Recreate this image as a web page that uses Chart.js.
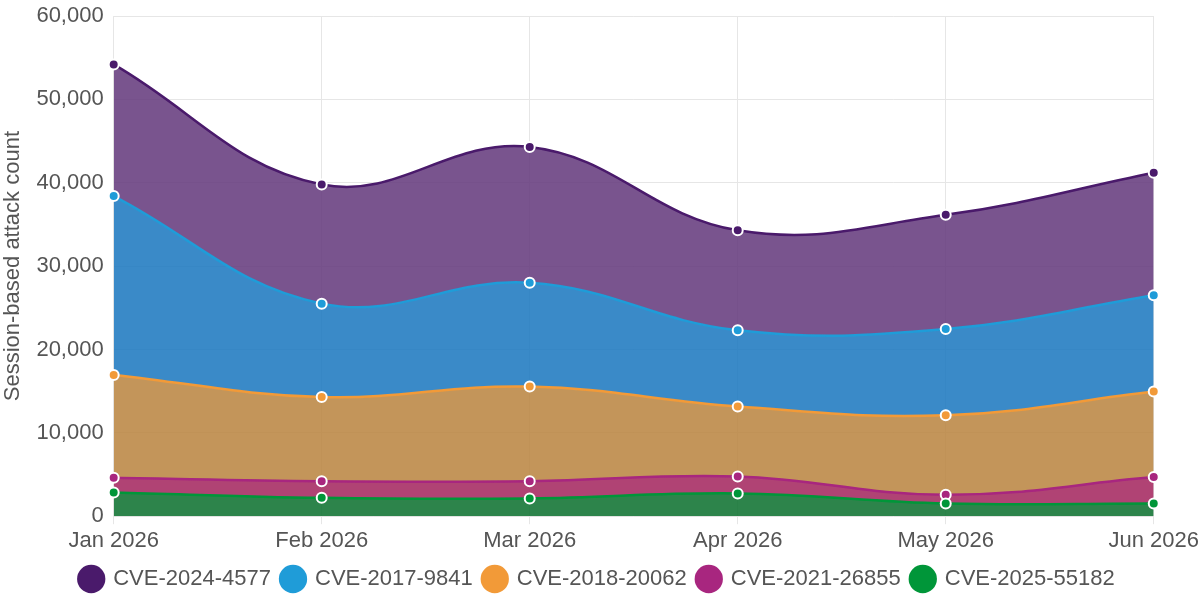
<!DOCTYPE html>
<html>
<head>
<meta charset="utf-8">
<script src="https://cdn.jsdelivr.net/npm/chart.js@4/dist/chart.umd.min.js"></script>
<style>
  html, body { margin: 0; padding: 0; background: #fff; }
  #wrap { width: 1200px; height: 600px; }
</style>
</head>
<body>
<div id="wrap"><canvas id="attackChart"></canvas></div>
<script>
const months = ['Jan 2026', 'Feb 2026', 'Mar 2026', 'Apr 2026', 'May 2026', 'Jun 2026'];

// stacked bottom to top: green, pink, orange, blue, purple
const cve202555182 = [2850, 2200, 2130, 2730, 1520, 1520];
const cve202126855 = [1750, 2000, 2070, 2040, 1040, 3170];
const cve201820062 = [12350, 10100, 11350, 8380, 9540, 10260];
const cve20179841 = [21450, 11200, 12450, 9150, 10350, 11550];
const cve20244577 = [15800, 14300, 16300, 12000, 13700, 14700];

const yTicks = [0, 10000, 20000, 30000, 40000, 50000, 60000];

const fontFam = '"Liberation Sans", Arial, sans-serif';

function serie(label, data, line, area, fill) {
    return {
        label: label,
        data: data,
        borderColor: line,
        backgroundColor: area,
        pointBackgroundColor: line,
        pointBorderColor: '#fff',
        pointBorderWidth: 2,
        pointRadius: 5,
        borderWidth: 2.5,
        tension: 0.4,
        fill: fill
    };
}

const ctx = document.getElementById('attackChart').getContext('2d');

new Chart(ctx, {
    type: 'line',
    data: {
        labels: months,
        datasets: [
            serie('CVE-2025-55182', cve202555182, '#009639', 'rgba(8,110,44,0.85)', 'origin'),
            serie('CVE-2021-26855', cve202126855, '#a8267f', 'rgba(162,34,92,0.85)', '-1'),
            serie('CVE-2018-20062', cve201820062, '#f29a38', 'rgba(185,131,61,0.85)', '-1'),
            serie('CVE-2017-9841', cve20179841, '#1f9cd8', 'rgba(24,117,190,0.85)', '-1'),
            serie('CVE-2024-4577', cve20244577, '#4a1a6b', 'rgba(98,54,122,0.85)', '-1')
        ]
    },
    options: {
        responsive: true,
        maintainAspectRatio: false,
        animation: false,
        layout: { padding: { left: 0, right: 5, top: 0, bottom: 0 } },
        scales: {
            x: {
                offset: false,
                grid: { color: '#e6e6e6', drawTicks: true, tickLength: 8 },
                border: { display: false },
                ticks: {
                    color: '#555',
                    font: { family: fontFam, size: 22, lineHeight: 1.4 },
                    maxRotation: 0,
                    padding: 1
                }
            },
            y: {
                stacked: true,
                min: 0,
                max: 60000,
                afterBuildTicks: axis => { axis.ticks = yTicks.map(v => ({ value: v })); },
                grid: { color: '#e6e6e6', drawTicks: false },
                border: { display: false },
                title: {
                    display: true,
                    text: 'Session-based attack count',
                    color: '#555',
                    font: { family: fontFam, size: 22 },
                    padding: 0
                },
                ticks: {
                    color: '#555',
                    font: { family: fontFam, size: 22, lineHeight: 0.55 },
                    padding: 10,
                    callback: v => v.toLocaleString('en-US')
                }
            }
        },
        plugins: {
            legend: {
                position: 'bottom',
                reverse: true,
                labels: {
                    usePointStyle: true,
                    pointStyle: 'circle',
                    boxHeight: 20,
                    color: '#555',
                    padding: 11,
                    font: { family: fontFam, size: 22 },
                    generateLabels: chart => {
                        return chart.data.datasets.map((ds, i) => ({
                            text: ds.label,
                            fillStyle: ds.borderColor,
                            strokeStyle: ds.borderColor,
                            lineWidth: 0,
                            pointStyle: 'circle',
                            fontColor: '#555',
                            datasetIndex: i,
                            hidden: false
                        }));
                    }
                }
            },
            tooltip: { enabled: false }
        }
    }
});
</script>
</body>
</html>
